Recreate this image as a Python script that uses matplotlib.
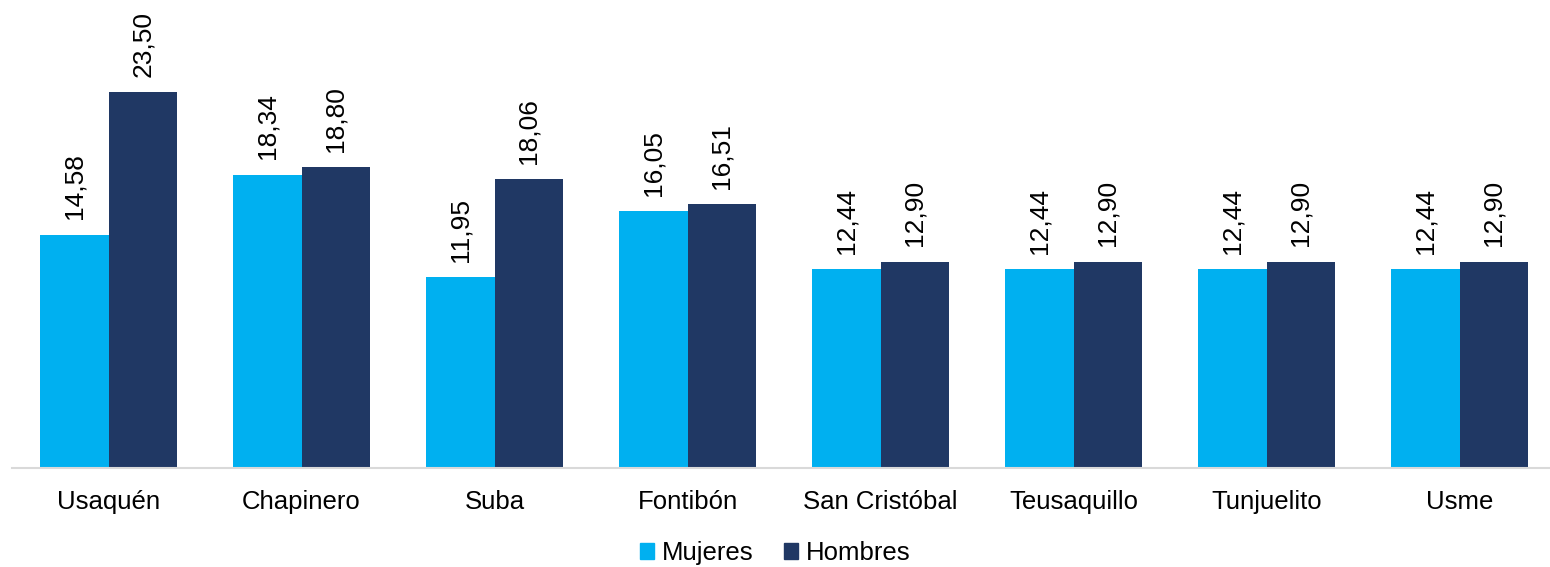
import numpy as np
import matplotlib.pyplot as plt
from matplotlib.patches import Patch

plt.rcParams['font.family'] = ['Liberation Sans', 'DejaVu Sans']

localidades = ['Usaquén', 'Chapinero', 'Suba', 'Fontibón', 'San Cristóbal',
               'Teusaquillo', 'Tunjuelito', 'Usme']
mujeres = [14.58, 18.34, 11.95, 16.05, 12.44, 12.44, 12.44, 12.44]
hombres = [23.50, 18.80, 18.06, 16.51, 12.90, 12.90, 12.90, 12.90]

c_muj = '#00B0F0'
c_hom = '#203864'

fig = plt.figure(figsize=(15.5, 5.67), dpi=100)
ax = fig.add_axes([12/1550, 1 - 468/567, 1544/1550, 468/567])

x = np.arange(len(localidades))
w = 0.3575
b1 = ax.bar(x - w/2, mujeres, w, color=c_muj)
b2 = ax.bar(x + w/2, hombres, w, color=c_hom)

for bars, vals in ((b1, mujeres), (b2, hombres)):
    for r, v in zip(bars, vals):
        ax.annotate(f'{v:.2f}'.replace('.', ','),
                    (r.get_x() + r.get_width()/2, v),
                    xytext=(0, 11), textcoords='offset points',
                    rotation=90, ha='center', va='bottom', fontsize=19)

ax.set_xlim(-0.5, len(localidades) - 0.5)
ax.set_ylim(0, 29.25)
ax.set_xticks(x)
ax.set_xticklabels(localidades, fontsize=18.5)
ax.tick_params(axis='x', length=0, pad=16)
ax.set_yticks([])
for s in ('top', 'left', 'right'):
    ax.spines[s].set_visible(False)
ax.spines['bottom'].set_color('#D9D9D9')
ax.spines['bottom'].set_linewidth(1.5)

handles = [Patch(color=c_muj, label='Mujeres'), Patch(color=c_hom, label='Hombres')]
fig.legend(handles=handles, loc='center', bbox_to_anchor=(0.5, 1 - 553/567),
           ncol=2, frameon=False, fontsize=18.5, handlelength=0.55,
           handleheight=0.55, handletextpad=0.3, columnspacing=1.2)

fig.savefig('out.png', dpi=100)
